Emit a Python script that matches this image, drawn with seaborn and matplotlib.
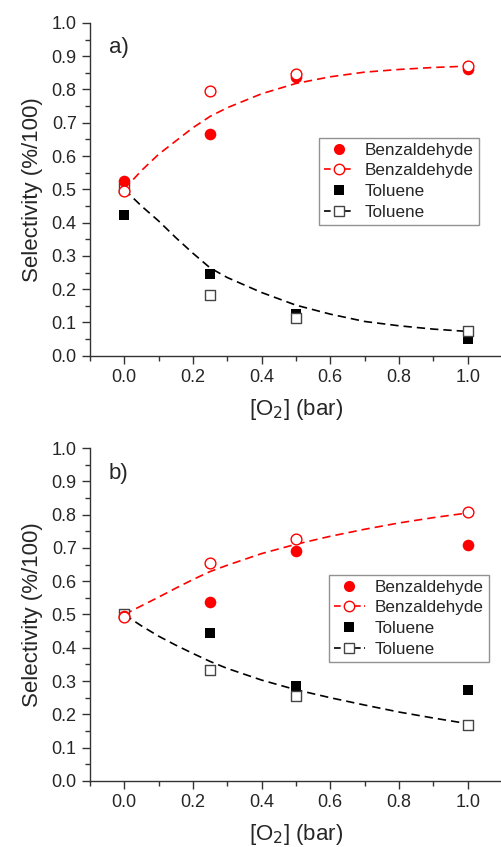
import numpy as np
import pandas as pd
import matplotlib
matplotlib.use("Agg")
import matplotlib.pyplot as plt
import seaborn as sns
from matplotlib.lines import Line2D
from matplotlib.ticker import MultipleLocator, FormatStrFormatter

# measured points
o2 = [0.0, 0.25, 0.5, 1.0]
benz_a_fill = [0.525, 0.667, 0.838, 0.860]
benz_a_open = [0.495, 0.795, 0.847, 0.870]
tol_a_fill = [0.423, 0.245, 0.125, 0.050]
tol_a_open = [0.505, 0.183, 0.112, 0.073]

benz_b_fill = [0.494, 0.538, 0.692, 0.708]
benz_b_open = [0.492, 0.655, 0.726, 0.807]
tol_b_fill = [0.500, 0.444, 0.286, 0.272]
tol_b_open = [0.501, 0.332, 0.256, 0.169]

# fitted curves
fit_x = [0.0, 0.05, 0.1, 0.15, 0.2, 0.25, 0.3, 0.4, 0.5, 0.6, 0.7, 0.8, 0.9, 1.0]
fit_benz_a = [0.500, 0.556, 0.605, 0.645, 0.685, 0.719, 0.745, 0.787, 0.818, 0.838, 0.852, 0.860, 0.866, 0.870]
fit_tol_a = [0.500, 0.450, 0.405, 0.355, 0.308, 0.264, 0.235, 0.190, 0.152, 0.125, 0.103, 0.090, 0.080, 0.073]
fit_benz_b = [0.500, 0.526, 0.552, 0.579, 0.605, 0.629, 0.648, 0.683, 0.711, 0.735, 0.756, 0.775, 0.791, 0.805]
fit_tol_b = [0.500, 0.466, 0.435, 0.408, 0.383, 0.359, 0.338, 0.303, 0.274, 0.250, 0.228, 0.207, 0.189, 0.172]

legend_labels = ['Benzaldehyde', 'Benzaldehyde', 'Toluene', 'Toluene']

sns.set_style("ticks")
plt.rcParams['font.family'] = ['Liberation Sans', 'DejaVu Sans']

fig = plt.figure(figsize=(5.02, 8.47), dpi=100)
ax_a = fig.add_axes([0.179, 0.580, 0.821, 0.393])
ax_b = fig.add_axes([0.179, 0.078, 0.821, 0.393])

RED = '#ff0000'
GREY = '#444444'


def draw_panel(ax, tag, bf, bo, tf, to, fb, ft, leg_pos):
    # fit curves
    sns.lineplot(x=fit_x, y=fb, ax=ax, color=RED, linestyle=(0, (5, 3)), lw=1.2)
    sns.lineplot(x=fit_x, y=ft, ax=ax, color='black', linestyle=(0, (5, 3)), lw=1.2)
    # data points
    sns.scatterplot(x=o2, y=tf, ax=ax, marker='s', s=45, color='black', edgecolor='black', linewidth=0, zorder=3)
    sns.scatterplot(x=o2, y=to, ax=ax, marker='s', s=42, facecolor='white', edgecolor=GREY, linewidth=1, zorder=3.5)
    sns.scatterplot(x=o2, y=bf, ax=ax, marker='o', s=70, color=RED, edgecolor=RED, linewidth=0, zorder=3.8)
    sns.scatterplot(x=o2, y=bo, ax=ax, marker='o', s=60, facecolor='white', edgecolor=RED, linewidth=1, zorder=4)

    ax.set_xlim(-0.1, 1.1)
    ax.set_ylim(0, 1.0)
    ax.xaxis.set_minor_locator(MultipleLocator(0.1))
    ax.yaxis.set_major_locator(MultipleLocator(0.1))
    ax.yaxis.set_minor_locator(MultipleLocator(0.05))
    ax.set_xticks([0.0, 0.2, 0.4, 0.6, 0.8, 1.0])
    ax.xaxis.set_major_formatter(FormatStrFormatter('%.1f'))
    ax.yaxis.set_major_formatter(FormatStrFormatter('%.1f'))
    ax.tick_params(which='major', length=6, width=1, labelsize=13, color='#333333')
    ax.tick_params(which='minor', length=3.5, width=1, color='#333333')
    for sp in ['top', 'right']:
        ax.spines[sp].set_visible(False)
    for sp in ['left', 'bottom']:
        ax.spines[sp].set_color('#333333')
        ax.spines[sp].set_linewidth(1)

    ax.set_ylabel('Selectivity (%/100)', fontsize=16, labelpad=6)
    ax.set_xlabel('[O$_2$] (bar)', fontsize=16, labelpad=8)
    ax.text(-0.045, 0.925, tag, fontsize=16, ha='left', va='center')

    handles = [
        Line2D([], [], marker='o', ls='none', color=RED, markersize=8, markeredgewidth=0),
        Line2D([], [], marker='o', ls=(0, (4, 2)), color=RED, markerfacecolor='white',
               markeredgecolor=RED, markersize=7.5, lw=1.2),
        Line2D([], [], marker='s', ls='none', color='black', markersize=6.5, markeredgewidth=0),
        Line2D([], [], marker='s', ls=(0, (4, 2)), color='black', markerfacecolor='white',
               markeredgecolor=GREY, markersize=6.5, lw=1.2),
    ]
    leg = ax.legend(handles, legend_labels, loc='upper left', bbox_to_anchor=leg_pos,
                    frameon=True, fancybox=False, fontsize=12.3, handlelength=1.8,
                    handletextpad=0.6, borderpad=0.3, labelspacing=0.33, borderaxespad=0)
    leg.get_frame().set_edgecolor('#777777')
    leg.get_frame().set_linewidth(1)


draw_panel(ax_a, 'a)', benz_a_fill, benz_a_open, tol_a_fill, tol_a_open,
           fit_benz_a, fit_tol_a, (0.555, 0.655))
draw_panel(ax_b, 'b)', benz_b_fill, benz_b_open, tol_b_fill, tol_b_open,
           fit_benz_b, fit_tol_b, (0.580, 0.620))

fig.savefig('out.png', dpi=100)
